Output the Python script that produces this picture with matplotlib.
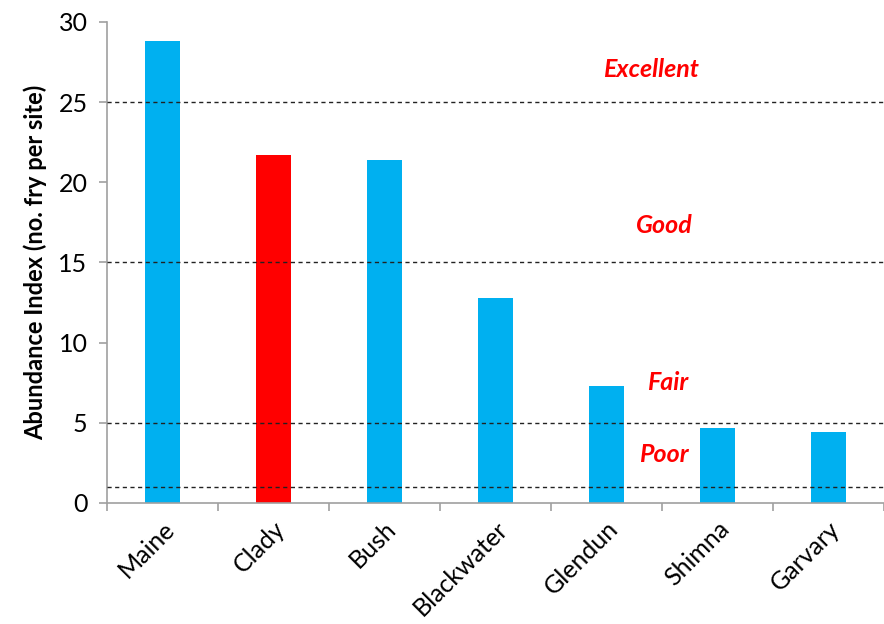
import numpy as np
import matplotlib.pyplot as plt
from matplotlib.ticker import FixedLocator

rivers = ["Maine", "Clady", "Bush", "Blackwater", "Glendun", "Shimna", "Garvary"]
abundance = [28.8, 21.7, 21.4, 12.8, 7.3, 4.7, 4.4]
bar_colors = ["#00B0F0", "#FF0000", "#00B0F0", "#00B0F0", "#00B0F0", "#00B0F0", "#00B0F0"]
thresholds = [25, 15, 5, 1]
class_names = ["Excellent", "Good", "Fair", "Poor"]
class_y = [27.0, 17.3, 7.5, 3.0]
class_x = [4.4, 4.52, 4.55, 4.52]

plt.rcParams['font.family'] = ['Lato', 'DejaVu Sans']

fig = plt.figure(figsize=(8.84, 6.24), dpi=100)
ax = fig.add_axes([0.121, 0.194, 0.879, 0.771])

x = np.arange(len(rivers))
ax.bar(x, abundance, width=0.32, color=bar_colors, zorder=2)

for t in thresholds:
    ax.axhline(t, color="#222222", linestyle=(0, (3, 2.5)), linewidth=1, zorder=3)

for name, cx, cy in zip(class_names, class_x, class_y):
    ax.text(cx, cy, name, color="#FF0000", fontsize=18, fontweight="bold",
            fontstyle="italic", ha="center", va="center")

ax.set_xlim(-0.5, len(rivers) - 0.5)
ax.set_ylim(0, 30)
ax.set_yticks([0, 5, 10, 15, 20, 25, 30])
ax.set_xticks(x)
ax.set_xticklabels(rivers, rotation=45, ha="right", rotation_mode="anchor", fontsize=18)
ax.xaxis.set_minor_locator(FixedLocator(np.arange(-0.5, len(rivers), 1.0)))
ax.tick_params(axis="x", which="major", length=0, pad=10)
ax.tick_params(axis="x", which="minor", length=6, color="#A0A0A0", width=1.2)
ax.tick_params(axis="y", length=6, color="#A0A0A0", width=1.2, labelsize=18, pad=8)

for side in ["top", "right"]:
    ax.spines[side].set_visible(False)
for side in ["left", "bottom"]:
    ax.spines[side].set_color("#A0A0A0")
    ax.spines[side].set_linewidth(1.2)

ax.set_ylabel("Abundance Index (no. fry per site)", fontsize=17, fontweight="bold", labelpad=8)

fig.savefig("out.png", dpi=100)
